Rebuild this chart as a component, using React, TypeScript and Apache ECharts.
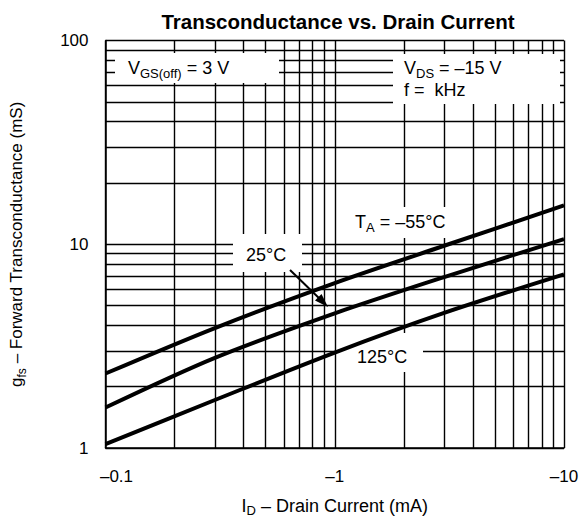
import React, { useEffect, useRef } from 'react';
import * as echarts from 'echarts';

// Drain current magnitude (mA); axis shows negative values
const drainCurrent = [0.1, 0.3, 1, 3, 10];
const gfsMinus55 = [2.32, 3.88, 6.45, 9.83, 15.5];
const gfs25 = [1.58, 2.77, 4.58, 6.9, 10.6];
const gfs125 = [1.046, 1.72, 2.94, 4.6, 7.11];

const xMinor = [0.2, 0.3, 0.4, 0.5, 0.6, 0.7, 0.8, 0.9, 2, 3, 4, 5, 6, 7, 8, 9];
const yMinor = [2, 3, 4, 5, 6, 7, 8, 9, 20, 30, 40, 50, 60, 70, 80, 90];
const xTickLabels: Record<string, string> = { '0.1': '{l|–0.1}', '1': '–1', '10': '–10' };

const FONT = '"Liberation Sans", Arial, Helvetica, sans-serif';

export default function App() {
  const ref = useRef<HTMLDivElement>(null);
  useEffect(() => {
    if (!ref.current) return;
    const chart = echarts.init(ref.current, null, { renderer: 'svg' });
    const pair = (ys: number[]) => drainCurrent.map((x, i) => [x, ys[i]]);
    const gridLine = { color: '#000', width: 1.4, type: 'solid' as const };
    const mkRich = (size: number, subSize: number) => ({
      a: { fontSize: size, fontFamily: FONT, color: '#000', lineHeight: size + 5, verticalAlign: 'middle' as const },
      s: { fontSize: subSize, fontFamily: FONT, color: '#000', lineHeight: subSize, verticalAlign: 'bottom' as const },
    });
    const rich = mkRich(18, 13);
    const sub = (main: string, s: string, rest: string) => `{a|${main}}{s|${s}}{a|${rest}}`;
    const whiteBox = (x: number, y: number, w: number, h: number) => ({
      type: 'rect', z: 2, silent: true, shape: { x, y, width: w, height: h }, style: { fill: '#fff' },
    });
    const txt = (x: number, y: number, text: string) => ({
      type: 'text', z: 6, silent: true, x, y,
      style: { text, rich, fill: '#000', font: `18px ${FONT}`, align: 'left', verticalAlign: 'middle' },
    });
    chart.setOption({
      animation: false,
      textStyle: { fontFamily: FONT },
      grid: { left: 102, right: 20, top: 40.5, bottom: 73, containLabel: false },
      xAxis: {
        type: 'log', logBase: 10, min: 0.1, max: 10, z: 0,
        axisLine: { show: true, lineStyle: { color: '#000', width: 1.5 } },
        axisTick: { show: false },
        splitLine: { show: true, lineStyle: gridLine },
        axisLabel: {
          color: '#000', fontSize: 17, margin: 20, fontFamily: FONT,
          formatter: (v: number) => xTickLabels[String(v)] ?? '–' + v,
          rich: { l: { fontSize: 17, fontFamily: FONT, color: '#000', padding: [0, 0, 0, 22] } },
        },
        name: '{a|I}{s|D}{a| – Drain Current (mA)}',
        nameLocation: 'middle', nameGap: 46,
        nameTextStyle: { rich: mkRich(18, 13) },
      },
      yAxis: {
        type: 'log', logBase: 10, min: 1, max: 100, z: 0,
        axisLine: { show: true, lineStyle: { color: '#000', width: 1.5 } },
        axisTick: { show: false },
        splitLine: { show: true, lineStyle: gridLine },
        axisLabel: { color: '#000', fontSize: 17, margin: 17, fontFamily: FONT },
        name: '{a|g}{s|fs}{a| – Forward Transconductance (mS)}',
        nameLocation: 'middle', nameGap: 78, nameRotate: 90,
        nameTextStyle: { rich: mkRich(17, 12) },
      },
      graphic: [
        { type: 'text', z: 6, x: 338, y: 21, style: { text: 'Transconductance vs. Drain Current', font: `bold 20.5px ${FONT}`, fill: '#000', align: 'center', verticalAlign: 'middle' } },
        whiteBox(115, 53, 164, 30),
        txt(128, 68, sub('V', 'GS(off)', ' = 3 V')),
        whiteBox(393, 54, 167, 50),
        txt(404, 68, sub('V', 'DS', ' = –15 V')),
        txt(404, 90, '{a|f =  kHz}'),
        whiteBox(348, 207, 107, 31),
        txt(355, 222, sub('T', 'A', ' = –55°C')),
        whiteBox(233, 234, 69, 38),
        txt(246, 255, '{a|25°C}'),
        whiteBox(340, 333, 83, 39),
        txt(357, 357, '{a|125°C}'),
        { type: 'line', z: 6, silent: true, shape: { x1: 290, y1: 270, x2: 322, y2: 301 }, style: { stroke: '#000', lineWidth: 2 } },
        { type: 'polygon', z: 6, silent: true, shape: { points: [[328, 307], [315, 300.5], [321.5, 294]] }, style: { fill: '#000' } },
      ],
      series: [
        {
          type: 'line', z: 1, data: [], silent: true,
          markLine: {
            z: 1, silent: true, symbol: ['none', 'none'], label: { show: false },
            lineStyle: gridLine, animation: false,
            data: [...xMinor.map((v) => ({ xAxis: v })), ...yMinor.map((v) => ({ yAxis: v }))],
          },
        },
        ...[gfsMinus55, gfs25, gfs125].map((ys) => ({
          type: 'line', z: 3, data: pair(ys), smooth: 0.3, showSymbol: false, silent: true,
          lineStyle: { color: '#000', width: 4 },
        })),
      ],
    });
    return () => chart.dispose();
  }, []);
  return <div ref={ref} style={{ position: 'absolute', left: 0, top: 0, width: 584, height: 522 }} />;
}
